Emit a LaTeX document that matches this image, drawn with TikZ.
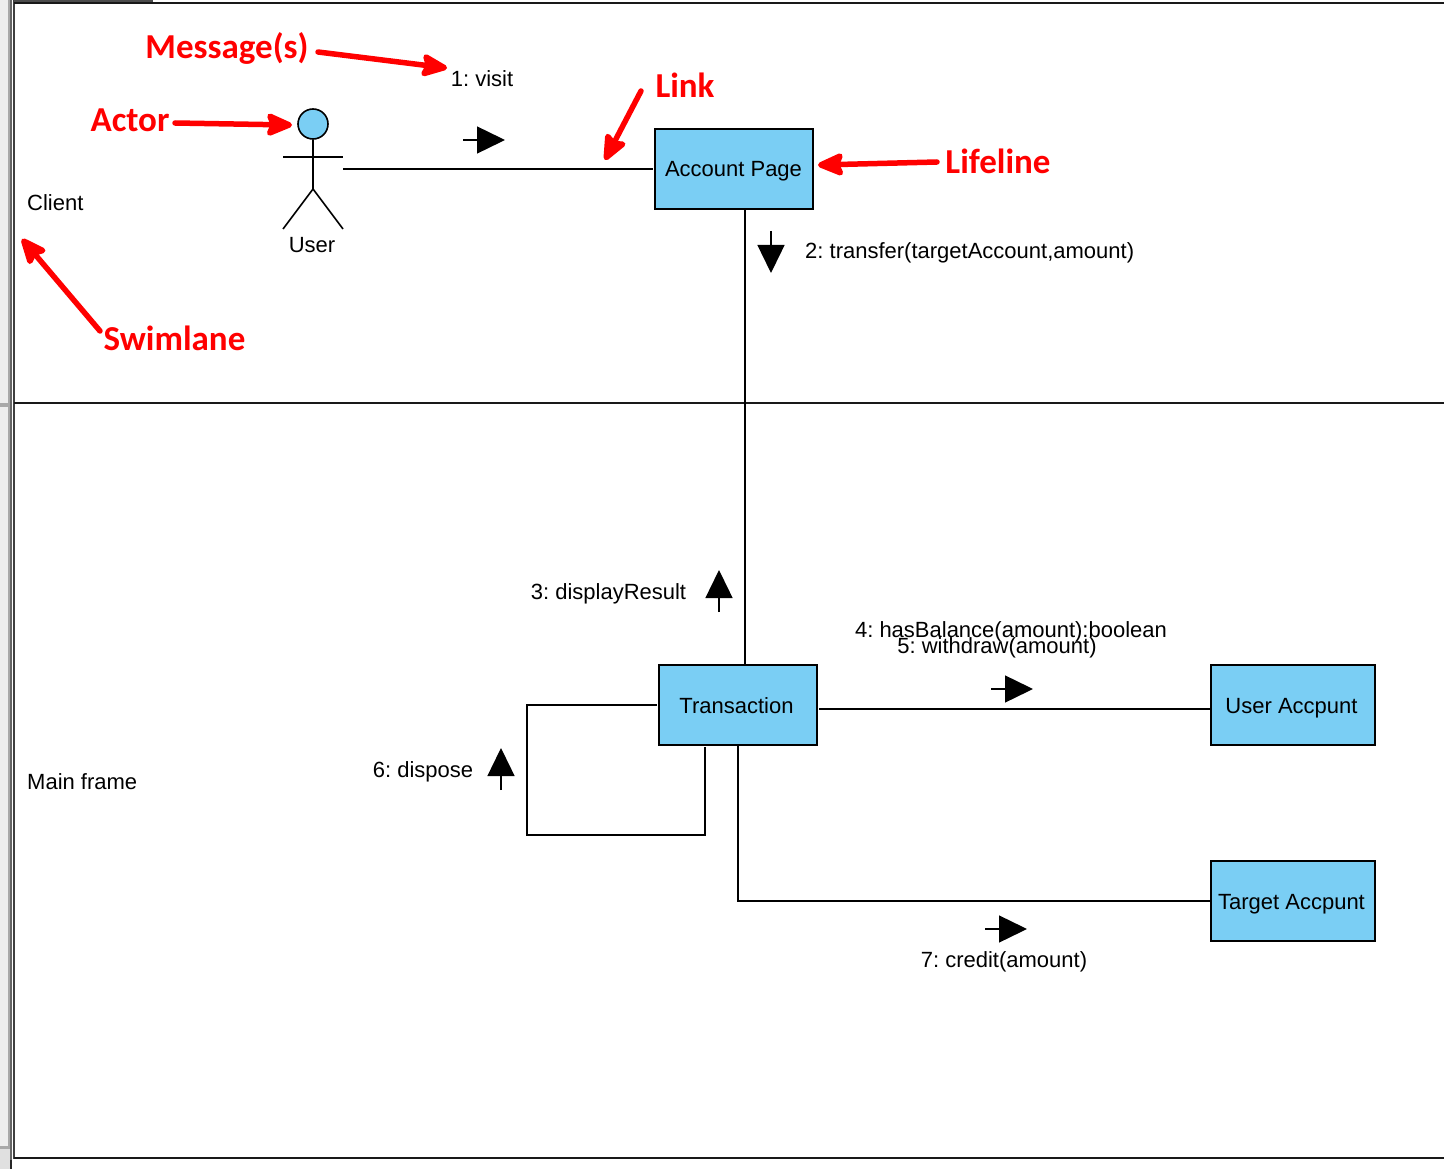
\documentclass[tikz,border=0pt]{standalone}
\usepackage{fontspec}
\setmainfont{Liberation Sans}
\newfontfamily\calloutfont{Carlito}
\usetikzlibrary{calc,arrows.meta,positioning}
\definecolor{lifeblue}{HTML}{7ACEF4}
\definecolor{chromegray}{HTML}{EEEEEE}
\definecolor{chromemid}{HTML}{A9A9A9}
\tikzset{
  lifebox/.style={draw=black,line width=1.6pt,fill=lifeblue,inner sep=0pt},
  txt/.style={font=\frenchspacing\fontsize{22}{24}\selectfont,inner sep=0pt,text height=15.5pt,text depth=0.5pt},
  link/.style={line width=1.6pt,black},
  lane/.style={line width=2.4pt,black!90},
  msgarrow/.style={line width=1.4pt,-{Triangle[length=28pt,width=27pt]}},
  callout/.style={font=\calloutfont\bfseries\fontsize{35}{37}\selectfont,text=red,inner sep=0pt},
  redarrow/.style={line width=5.5pt,red,line cap=round,-{Stealth[length=31pt,width=26pt,inset=5pt,round=false]}},
}
\begin{document}
\begin{tikzpicture}[x=1pt,y=-1pt]
\useasboundingbox (0,0) rectangle (1444,1169);
\fill[white] (0,0) rectangle (1444,1169);
% window chrome on the left
\fill[chromegray] (0,0) rectangle (8,1146);
\fill[chromemid] (8,0) rectangle (10,1160);
\fill[chromemid] (0,403) rectangle (8,407);
\fill[chromemid] (0,1146) rectangle (10,1149);
\fill[black!12] (0,1149) rectangle (10,1169);
\fill[black!85] (10,1160) rectangle (12,1169);
\fill[black!60] (10,0) rectangle (12,1160);
\fill[black!75] (13,0) rectangle (14.5,1159);
\fill[black!70] (14,0) rectangle (153,2);
% swimlanes
\draw[lane] (14,3) -- (1444,3);
\draw[lane] (14,403) -- (1444,403);
\draw[lane] (14,1158) -- (1444,1158);
\node[txt,anchor=west] (client) at (27,203.5) {Client};
\node[txt,anchor=west] (mainframe) at (27,781.5) {Main frame};
% actor
\node[draw=black,line width=1.6pt,fill=lifeblue,circle,minimum size=30pt,inner sep=0pt] (head) at (313,124) {};
\coordinate (hip) at (313,189);
\coordinate (actorlink) at (343,169);
\draw[link] (head.south) -- (hip);
\draw[link] (283,157) -- (343,157);
\draw[link] (283,229) -- (hip) -- (343,229);
\node[txt] (user) at (312,245.5) {User};
% lifelines
\node[lifebox,minimum width=158pt,minimum height=80pt] (account) at (734,169) {};
\node[txt] at (733.5,169.5) {Account Page};
\node[lifebox,minimum width=158pt,minimum height=80pt] (transaction) at (738,705) {};
\node[txt] at (736.5,705.5) {Transaction};
\node[lifebox,minimum width=164pt,minimum height=80pt] (useracc) at (1293,705) {};
\node[txt] at (1291.5,705.5) {User Accpunt};
\node[lifebox,minimum width=164pt,minimum height=80pt] (targetacc) at (1293,901) {};
\node[txt] at (1291.5,901.5) {Target Accpunt};
% links
\coordinate (acctail) at (745,209);
\coordinate (transout) at (819,709);
\coordinate (selfa) at (657,705);
\coordinate (selfb) at (705,747);
\draw[link,shorten >=1.5pt] (actorlink) -- (actorlink -| account.west);
\draw[link] (acctail) -- (acctail |- transaction.north);
\draw[link] (transout) -- (transout -| useracc.west);
\draw[link] (selfa) -- (527,705) -- (527,835) -- (705,835) -- (selfb);
\draw[link] (transaction.south) -- (transaction.south |- targetacc.west) -- (targetacc.west);
% messages
\node[txt] (m1) at (482,79.5) {1: visit};
\node[txt,anchor=west] (m2) at (805,251.5) {2: transfer(targetAccount,amount)};
\node[txt] (m3) at (608.5,591.5) {3: displayResult};
\node[txt] (m4) at (1011,629.5) {4: hasBalance(amount):boolean};
\node[txt] (m5) at (997,645.5) {5: withdraw(amount)};
\node[txt] (m6) at (423,769.5) {6: dispose};
\node[txt] (m7) at (1004,959.5) {7: credit(amount)};
\draw[msgarrow] (463,140) -- (505,140);
\draw[msgarrow] (771,231) -- (771,273);
\draw[msgarrow] (719,612) -- (719,570);
\draw[msgarrow] (991,689) -- (1033,689);
\draw[msgarrow] (501,790) -- (501,748);
\draw[msgarrow] (985,929) -- (1027,929);
% callouts
\node[callout] (cmsg) at (227,48) {Message(s)};
\node[callout] (cactor) at (130,120) {Actor};
\node[callout] (clink) at (685,85) {Link};
\node[callout] (clife) at (998,161) {Lifeline};
\node[callout] (cswim) at (174.5,338) {Swimlane};
\draw[redarrow] (318,52) -- (447,68);
\draw[redarrow] (175,123) -- (292,125);
\draw[redarrow] (641,91) -- (605,160);
\draw[redarrow] (937,162) -- (818,165);
\draw[redarrow] (100,331) -- (22,239);
\end{tikzpicture}
\end{document}
